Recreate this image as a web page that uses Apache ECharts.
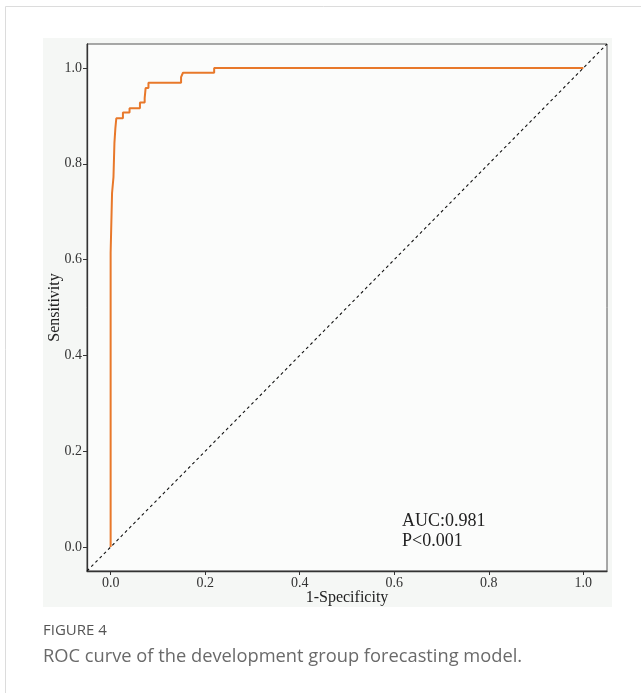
<!DOCTYPE html>
<html>
<head>
<meta charset="utf-8">
<script src="https://cdn.jsdelivr.net/npm/echarts@6/dist/echarts.min.js"></script>
<style>
  html, body { margin: 0; padding: 0; background: #ffffff; }
  #chart { width: 641px; height: 693px; }
</style>
</head>
<body>
<div id="chart"></div>
<script>
// ROC curve points (1-Specificity, Sensitivity)
const fpr = [0, 0, 0.003, 0.003, 0.006, 0.006, 0.008, 0.008, 0.010, 0.010, 0.012, 0.012, 0.026, 0.026, 0.040, 0.040, 0.062, 0.062, 0.072, 0.072, 0.074, 0.074, 0.080, 0.080, 0.149, 0.149, 0.153, 0.153, 0.219, 0.219, 1.0];
const tpr = [0, 0.615, 0.615, 0.739, 0.739, 0.772, 0.772, 0.843, 0.843, 0.874, 0.874, 0.895, 0.895, 0.907, 0.907, 0.916, 0.916, 0.928, 0.928, 0.937, 0.937, 0.958, 0.958, 0.969, 0.969, 0.981, 0.981, 0.990, 0.990, 1.0, 1.0];
// reference diagonal
const diagX = [-0.05, 1.05];
const diagY = [-0.05, 1.05];
// tick labels
const xTicks = [0, 0.2, 0.4, 0.6, 0.8, 1.0];
const yTicks = [0, 0.2, 0.4, 0.6, 0.8, 1.0];
const annotationLines = ['AUC:0.981', 'P<0.001'];
const figureLabel = 'FIGURE 4';
const captionText = 'ROC curve of the development group forecasting model.';

const rocData = fpr.map((x, i) => [x, tpr[i]]);
const diagData = diagX.map((x, i) => [x, diagY[i]]);

const serif = '"Liberation Serif", "DejaVu Serif", serif';
const chart = echarts.init(document.getElementById('chart'), null, { renderer: 'canvas' });

chart.setOption({
  backgroundColor: '#ffffff',
  animation: false,
  graphic: [
    { type: 'line', shape: { x1: 5.5, y1: 6.5, x2: 641, y2: 6.5 }, style: { stroke: '#dcdcdc', lineWidth: 1 }, z: -10 },
    { type: 'line', shape: { x1: 5.5, y1: 6.5, x2: 5.5, y2: 693 }, style: { stroke: '#dcdcdc', lineWidth: 1 }, z: -10 },
    { type: 'rect', shape: { x: 43, y: 38, width: 569, height: 569 }, style: { fill: '#f5f7f5' }, z: -10 },
    { type: 'text', left: 402, top: 511, style: { text: annotationLines.join('\n'), font: '18px ' + serif, fill: '#222', lineHeight: 20 }, z: 10 },
    { type: 'text', left: 43, top: 623, style: { text: figureLabel, font: '15px "Open Sans", sans-serif', fill: '#555' } },
    { type: 'text', left: 43, top: 648, style: { text: captionText, font: '18.3px "Open Sans", sans-serif', fill: '#6a6a6a' } }
  ],
  grid: {
    left: 87, top: 44, width: 520, height: 527,
    show: true, backgroundColor: '#fbfcfb', borderColor: '#555', borderWidth: 1
  },
  xAxis: {
    type: 'value', min: -0.05, max: 1.05,
    name: '1-Specificity', nameLocation: 'middle', nameGap: 19, nameMoveOverlap: false,
    nameTextStyle: { fontFamily: serif, fontSize: 16, color: '#222', verticalAlign: 'top' },
    axisLine: { show: true, onZero: false, lineStyle: { color: '#333', width: 1.3 } },
    axisTick: { show: true, length: 4, lineStyle: { color: '#333' }, customValues: xTicks },
    axisLabel: { show: true, margin: 5, fontFamily: serif, fontSize: 14, color: '#333', customValues: xTicks, formatter: v => v.toFixed(1) },
    splitLine: { show: false }
  },
  yAxis: {
    type: 'value', min: -0.05, max: 1.05,
    name: 'Sensitivity', nameLocation: 'middle', nameGap: 24, nameRotate: 90, nameMoveOverlap: false,
    nameTextStyle: { fontFamily: serif, fontSize: 16, color: '#222' },
    axisLine: { show: true, onZero: false, lineStyle: { color: '#333', width: 1.3 } },
    axisTick: { show: true, length: 4, lineStyle: { color: '#333' }, customValues: yTicks },
    axisLabel: { show: true, margin: 5, fontFamily: serif, fontSize: 14, color: '#333', customValues: yTicks, formatter: v => v.toFixed(1) },
    splitLine: { show: false }
  },
  series: [
    {
      type: 'line', data: diagData, symbol: 'none', silent: true,
      lineStyle: { color: '#111', width: 1.1, type: [3, 3] }, z: 2
    },
    {
      type: 'line', data: rocData, symbol: 'none',
      lineStyle: { color: '#e8782a', width: 2 }, z: 3
    }
  ]
});
</script>
</body>
</html>
